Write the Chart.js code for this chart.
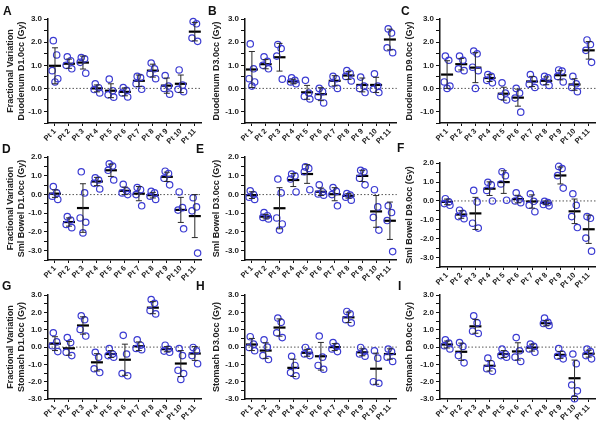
<!DOCTYPE html>
<html><head><meta charset="utf-8">
<script src="https://cdn.jsdelivr.net/npm/chart.js@4/dist/chart.umd.min.js"></script>
<style>
html,body{margin:0;padding:0;background:#fff;}
#wrap{position:relative;width:600px;height:429px;overflow:hidden;font-family:"Liberation Sans",Arial,sans-serif;}
#wrap canvas{position:absolute;}
.lbl{position:absolute;font-weight:bold;font-size:12px;line-height:12px;color:#111;font-family:"Liberation Sans",Arial,sans-serif;}
</style></head><body><div id="wrap"></div>
<script>
const patients = ['Pt 1','Pt 2','Pt 3','Pt 4','Pt 5','Pt 6','Pt 7','Pt 8','Pt 9','Pt 10','Pt 11'];
const yTitles = [
  ['Fractional Variation','Duodenum D1.0cc (Gy)'], 'Duodenum D3.0cc (Gy)', 'Duodenum D9.0cc (Gy)',
  ['Fractional Variation','Sml Bowel D1.0cc (Gy)'], 'Sml Bowel D3.0cc (Gy)', 'Sml Bowel D9.0cc (Gy)',
  ['Fractional Variation','Stomach D1.0cc (Gy)'], 'Stomach D3.0cc (Gy)', 'Stomach D9.0cc (Gy)'
];
const panelLetters = ['A','B','C','D','E','F','G','H','I'];

// Panel A - Duodenum D1.0cc
const duoD1Points = [[2.07,1.45,0.77,0.42,0.28],[1.37,1.2,1.0,0.85],[1.34,1.28,1.13,0.66],[0.2,0.03,-0.05,-0.2],[0.4,-0.1,-0.28,-0.38],[0.04,-0.08,-0.2,-0.37],[0.52,0.47,0.2,-0.04],[1.1,0.85,0.63,0.42],[0.56,0.1,0.0,-0.25],[0.8,0.14,-0.04,-0.14],[2.9,2.8,2.18,2.04]];
const duoD1Mean = [0.98,1.07,1.12,0.0,-0.1,-0.15,0.33,0.77,0.12,0.2,2.46];
const duoD1Sd = [0.78,0.2,0.28,0.15,0.3,0.17,0.25,0.28,0.33,0.38,0.4];
// Panel B - Duodenum D3.0cc
const duoD3Points = [[1.93,0.85,0.42,0.28,0.1],[1.37,1.17,1.0,0.85],[1.9,1.73,1.4,0.4],[0.46,0.35,0.28,0.2],[0.35,-0.2,-0.35,-0.46],[0.0,-0.14,-0.35,-0.63],[0.52,0.42,0.2,0.0],[0.77,0.66,0.52,0.32],[0.49,0.1,0.0,-0.18],[0.63,0.1,-0.04,-0.18],[2.58,2.4,1.76,1.55]];
const duoD3Mean = [0.82,1.05,1.35,0.3,-0.17,-0.25,0.33,0.56,0.15,0.15,2.12];
const duoD3Sd = [0.78,0.2,0.6,0.1,0.3,0.28,0.22,0.17,0.3,0.33,0.45];
// Panel C - Duodenum D9.0cc
const duoD9Points = [[1.4,1.22,0.28,0.1,0.0],[1.4,1.22,0.85,0.77],[1.62,1.5,0.92,0.77,0.0],[0.6,0.52,0.35,0.24],[0.24,-0.2,-0.35,-0.5],[0.0,-0.2,-0.42,-1.03],[0.6,0.38,0.18,0.04],[0.52,0.46,0.28,0.13],[0.8,0.75,0.52,0.28],[0.52,0.2,0.04,-0.14],[2.1,1.9,1.65,1.13]];
const duoD9Mean = [0.6,1.05,0.9,0.45,-0.23,-0.4,0.3,0.33,0.57,0.17,1.65];
const duoD9Sd = [0.6,0.25,0.65,0.15,0.28,0.37,0.22,0.17,0.2,0.25,0.38];
// Panel D - Small bowel D1.0cc
const smlD1Points = [[0.43,0.09,-0.09,-0.26],[-1.18,-1.36,-1.6,-1.77],[1.22,0.09,-1.25,-1.48,-2.05],[0.9,0.78,0.6,0.3],[1.65,1.53,1.3,0.78],[0.55,0.2,0.09,0.0],[0.38,0.26,0.0,-0.6],[0.17,0.09,-0.09,-0.26],[1.25,1.13,0.87,0.52],[0.14,-0.7,-0.83,-1.83],[-0.17,-0.66,-0.87,-3.13]];
const smlD1Mean = [0.05,-1.47,-0.72,0.7,1.3,0.2,0.05,-0.03,0.95,-0.82,-1.15];
const smlD1Sd = [0.2,0.22,1.3,0.22,0.33,0.2,0.38,0.15,0.25,0.67,1.15];
// Panel E - Small bowel D3.0cc
const smlD3Points = [[0.2,0.0,-0.14,-0.26],[-0.96,-1.13,-1.22,-1.3],[0.83,0.09,-1.25,-1.57,-1.9],[1.1,1.0,0.83,0.14],[1.48,1.4,1.22,0.26],[0.52,0.14,0.03,-0.03],[0.38,0.17,0.0,-0.6],[0.05,-0.03,-0.14,-0.3],[1.3,1.22,0.87,0.52],[0.26,-0.66,-1.22,-1.9],[-0.6,-0.96,-1.39,-3.05]];
const smlD3Mean = [-0.03,-1.18,-0.73,0.78,1.1,0.15,0.02,-0.07,1.0,-0.9,-1.4];
const smlD3Sd = [0.18,0.12,1.1,0.35,0.5,0.2,0.35,0.12,0.3,0.85,1.0];
// Panel F - Small bowel D9.0cc
const smlD9Points = [[0.12,-0.05,-0.14,-0.23],[-0.49,-0.66,-0.83,-0.94],[0.56,-0.05,-1.18,-1.44],[0.99,0.85,0.56,0.0],[1.55,1.34,0.9,0.04],[0.43,0.09,0.0,-0.09],[0.38,-0.02,-0.23,-0.57],[-0.02,-0.09,-0.19,-0.26],[1.83,1.72,1.34,0.68],[0.38,-0.23,-0.83,-1.41],[-0.83,-0.92,-1.97,-2.66]];
const smlD9Mean = [-0.05,-0.72,-0.66,0.65,1.0,0.1,-0.03,-0.1,1.35,-0.55,-1.5];
const smlD9Sd = [0.15,0.2,0.85,0.36,0.6,0.2,0.35,0.1,0.45,0.65,0.75];
// Panel G - Stomach D1.0cc
const stoD1Points = [[0.83,0.3,0.08,-0.26],[0.55,0.26,-0.3,-0.49],[1.81,1.58,1.02,0.64],[-0.3,-0.58,-1.25,-1.47],[-0.08,-0.4,-0.49,-0.58],[0.68,-0.4,-1.53,-1.66],[0.42,0.11,-0.08,-0.15],[2.75,2.53,2.11,1.92],[0.11,-0.11,-0.23,-0.3],[-0.08,-0.49,-1.34,-1.53,-1.87],[-0.02,-0.21,-0.49,-0.96]];
const stoD1Mean = [0.2,-0.07,1.25,-0.88,-0.4,-0.73,0.05,2.28,-0.12,-0.95,-0.37];
const stoD1Sd = [0.4,0.4,0.5,0.5,0.2,0.9,0.25,0.35,0.15,0.75,0.4];
// Panel H - Stomach D3.0cc
const stoD3Points = [[0.6,0.17,-0.02,-0.21],[0.42,0.0,-0.49,-0.72],[1.68,1.43,0.83,0.55],[-0.53,-1.06,-1.47,-1.66],[-0.02,-0.26,-0.4,-0.49],[0.64,-0.58,-1.06,-1.28],[0.26,0.04,-0.11,-0.26],[2.06,1.92,1.58,1.4],[-0.02,-0.26,-0.4,-0.53],[-0.21,-0.64,-2.0,-2.09],[-0.11,-0.26,-0.58,-0.83]];
const stoD3Mean = [0.15,-0.2,1.13,-1.2,-0.33,-0.53,0.0,1.72,-0.3,-1.25,-0.4];
const stoD3Sd = [0.35,0.45,0.5,0.5,0.2,0.8,0.2,0.3,0.2,0.9,0.3];
// Panel I - Stomach D9.0cc
const stoD9Points = [[0.42,0.23,0.08,-0.11],[0.26,0.04,-0.49,-0.91],[1.81,1.4,0.92,0.79],[-0.64,-0.96,-1.25,-1.4],[-0.11,-0.4,-0.49,-0.58],[0.55,-0.21,-0.58,-0.83],[0.17,0.04,-0.11,-0.3],[1.68,1.43,1.36,1.25],[-0.08,-0.4,-0.53,-0.68],[-0.4,-0.96,-2.19,-2.53,-2.98],[-0.11,-0.26,-0.49,-0.68]];
const stoD9Mean = [0.15,-0.27,1.2,-1.08,-0.4,-0.25,-0.03,1.38,-0.45,-1.8,-0.38];
const stoD9Sd = [0.2,0.5,0.4,0.3,0.2,0.5,0.2,0.15,0.2,1.05,0.2];

const allPoints = [duoD1Points,duoD3Points,duoD9Points,smlD1Points,smlD3Points,smlD9Points,stoD1Points,stoD3Points,stoD9Points];
const allMeans = [duoD1Mean,duoD3Mean,duoD9Mean,smlD1Mean,smlD3Mean,smlD9Mean,stoD1Mean,stoD3Mean,stoD9Mean];
const allSds = [duoD1Sd,duoD3Sd,duoD9Sd,smlD1Sd,smlD3Sd,smlD9Sd,stoD1Sd,stoD3Sd,stoD9Sd];
const yRanges = [[-1.5,3],[-1.5,3],[-1.5,3],[-3.5,2],[-3.5,2],[-3.5,2],[-3,3],[-3,3],[-3,3]];

// layout (pixels)
const cols = [{left:0,yW:48,plotW:156,titlePad:5.6},{left:196,yW:49,plotW:154,titlePad:15.6},{left:397,yW:43,plotW:158,titlePad:7.6}];
const rowGeo = [[{top:17,h:106},{top:17,h:106},{top:17,h:106}],[{top:155,h:105},{top:155,h:105},{top:161,h:106}],[{top:293,h:106},{top:293,h:106},{top:293,h:106}]];
const letterPos = [[3,5],[208,5],[401,5],[2,143],[196,143],[397,142],[2,280],[196,280],[398,280]];

const PAD_TOP = 6, PAD_RIGHT = 6, X_H = 26;
const jitter = [-0.12, 0.12, -0.2, 0.2, 0];

const zeroLine = {
  id:'zeroLine',
  beforeDatasetsDraw(chart){
    const {ctx, chartArea:a, scales:{y}} = chart;
    const py = y.getPixelForValue(0);
    ctx.save();
    ctx.strokeStyle = '#555'; ctx.lineWidth = 1; ctx.setLineDash([1.5,2]);
    ctx.beginPath(); ctx.moveTo(a.left, py); ctx.lineTo(a.right, py); ctx.stroke();
    ctx.restore();
  }
};
const errBars = {
  id:'errBars',
  afterDatasetsDraw(chart, args, opts){
    const {ctx, scales:{x,y}} = chart;
    ctx.save();
    ctx.strokeStyle = '#2a2a2a'; ctx.lineWidth = 1;
    opts.mean.forEach((m,i)=>{
      const px = x.getPixelForValue(i+1);
      const top = y.getPixelForValue(m + opts.sd[i]);
      const bot = y.getPixelForValue(m - opts.sd[i]);
      ctx.beginPath();
      ctx.moveTo(px, top); ctx.lineTo(px, bot);
      ctx.moveTo(px-3, top); ctx.lineTo(px+3, top);
      ctx.moveTo(px-3, bot); ctx.lineTo(px+3, bot);
      ctx.stroke();
    });
    ctx.restore();
  }
};

const wrap = document.getElementById('wrap');
for (let p = 0; p < 9; p++) {
  const r = Math.floor(p/3), c = p%3;
  const col = cols[c], geo = rowGeo[r][c];
  const cv = document.createElement('canvas');
  const W = col.yW + col.plotW + PAD_RIGHT, H = PAD_TOP + geo.h + X_H;
  cv.width = W; cv.height = H;
  cv.style.left = col.left + 'px'; cv.style.top = (geo.top - PAD_TOP) + 'px';
  cv.style.width = W + 'px'; cv.style.height = H + 'px';
  wrap.appendChild(cv);

  const scatter = [];
  allPoints[p].forEach((arr,i)=>arr.forEach((v,j)=>scatter.push({x:i+1+jitter[j%jitter.length], y:v})));
  const means = allMeans[p].map((m,i)=>({x:i+1,y:m}));

  new Chart(cv, {
    type:'scatter',
    data:{datasets:[
      {data:scatter, pointStyle:'circle', pointRadius:3.2, pointBorderWidth:1.2, borderColor:'#3b3bd2', backgroundColor:'rgba(255,255,255,0)', clip:false},
      {data:means, pointStyle:'line', pointRadius:6, pointBorderWidth:2.2, borderColor:'#000', backgroundColor:'#000', clip:false}
    ]},
    options:{
      responsive:false, animation:false, devicePixelRatio:1,
      layout:{padding:{top:PAD_TOP,right:PAD_RIGHT,left:0,bottom:0}},
      plugins:{legend:{display:false}, tooltip:{enabled:false}, errBars:{mean:allMeans[p], sd:allSds[p]}},
      scales:{
        x:{type:'linear', min:0.5, max:11.5,
          afterBuildTicks:s=>{ s.ticks = patients.map((_,i)=>({value:i+1})); },
          afterFit:s=>{ s.height = X_H; },
          ticks:{autoSkip:false, minRotation:45, maxRotation:45, padding:1,
            color:'#222', font:{family:'"Liberation Sans", Arial, sans-serif', size:7.5, weight:'bold'},
            callback:v=>patients[Math.round(v)-1]},
          grid:{display:true, drawOnChartArea:false, drawTicks:true, tickLength:3, color:'#111', tickWidth:1},
          border:{display:true, color:'#111', width:1.5}
        },
        y:{min:yRanges[p][0], max:yRanges[p][1],
          afterFit:s=>{ s.width = col.yW; },
          ticks:{stepSize:0.5, autoSkip:false, padding:2, color:'#222',
            font:{family:'"Liberation Sans", Arial, sans-serif', size:8, weight:'bold'},
            callback:v=>Number.isInteger(v) ? v.toFixed(1) : ''},
          grid:{display:true, drawOnChartArea:false, drawTicks:true, tickLength:4, color:'#111', tickWidth:1},
          border:{display:true, color:'#111', width:1.5},
          title:{display:true, text:yTitles[p], color:'#222', padding:{top:col.titlePad,bottom:0},
            font:{family:'"Liberation Sans", Arial, sans-serif', size:9, weight:'bold', lineHeight:1.2}}
        }
      }
    },
    plugins:[zeroLine, errBars]
  });

  const l = document.createElement('div');
  l.className = 'lbl'; l.textContent = panelLetters[p];
  l.style.left = letterPos[p][0] + 'px'; l.style.top = letterPos[p][1] + 'px';
  wrap.appendChild(l);
}
</script>
</body></html>
